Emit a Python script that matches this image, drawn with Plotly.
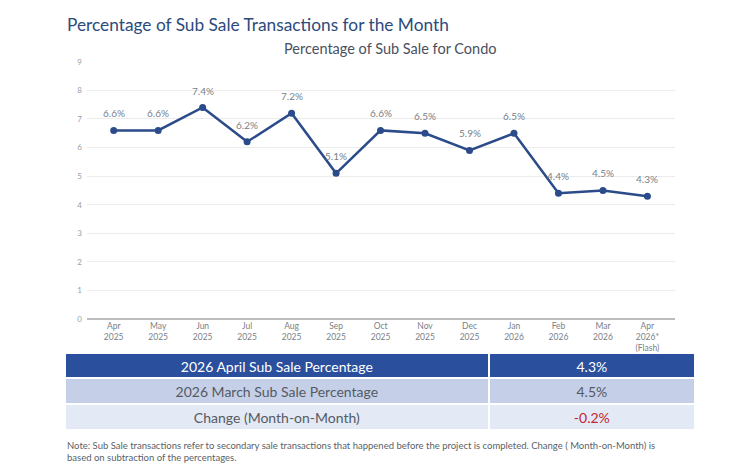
import plotly.graph_objects as go

months = ["Apr<br>2025", "May<br>2025", "Jun<br>2025", "Jul<br>2025", "Aug<br>2025", "Sep<br>2025",
          "Oct<br>2025", "Nov<br>2025", "Dec<br>2025", "Jan<br>2026", "Feb<br>2026", "Mar<br>2026",
          "Apr<br>2026*<br>(Flash)"]
values = [6.6, 6.6, 7.4, 6.2, 7.2, 5.1, 6.6, 6.5, 5.9, 6.5, 4.4, 4.5, 4.3]
labels = [f"{v:.1f}%" for v in values]

table_labels = ["2026 April Sub Sale Percentage", "2026 March Sub Sale Percentage", "Change (Month-on-Month)"]
table_values = ["4.3%", "4.5%", "-0.2%"]

W, H = 750, 467
FONT = "Lato"

fig = go.Figure()
fig.add_trace(go.Scatter(
    x=list(range(len(months))), y=values, mode="lines+markers",
    line=dict(color="#2b4b8a", width=2.5),
    marker=dict(size=7, color="#2b4b8a"),
    cliponaxis=False, showlegend=False, hoverinfo="skip",
))

fig.add_trace(go.Table(
    domain=dict(x=[65 / W, 695 / W], y=[1 - 436 / H, 1 - 356 / H]),
    columnwidth=[423, 206],
    header=dict(
        values=[table_labels[0], table_values[0]],
        fill_color="#2a4f9d", line=dict(color="white", width=2),
        font=dict(color="white", size=14, family=FONT), align="center", height=25,
    ),
    cells=dict(
        values=[table_labels[1:], table_values[1:]],
        fill_color=[["#c5d0e8", "#e3e9f5"], ["#c5d0e8", "#e3e9f5"]],
        line=dict(color="white", width=2),
        font=dict(color=[["#555a63", "#555a63"], ["#555a63", "#c0282f"]], size=14, family=FONT),
        align="center", height=26,
    ),
))

annotations = [
    dict(text="Percentage of Sub Sale Transactions for the Month", x=65 / W, y=1 - 20 / H,
         xref="paper", yref="paper", xanchor="left", yanchor="middle", showarrow=False,
         font=dict(size=17.3, color="#2c4a7c", family=FONT)),
    dict(text="Percentage of Sub Sale for Condo", x=390 / W, y=1 - 44 / H,
         xref="paper", yref="paper", xanchor="center", yanchor="middle", showarrow=False,
         font=dict(size=14.5, color="#4a5060", family=FONT)),
    dict(text="Note: Sub Sale transactions refer to secondary sale transactions that happened before the project is completed. Change ( Month-on-Month) is<br>based on subtraction of the percentages.",
         x=65 / W, y=1 - 442 / H, xref="paper", yref="paper", xanchor="left", yanchor="top",
         align="left", showarrow=False, font=dict(size=9.5, color="#5a5f68", family=FONT)),
]
for i, (v, t) in enumerate(zip(values, labels)):
    annotations.append(dict(text=t, x=i, y=v, xref="x", yref="y", showarrow=False,
                            yanchor="middle", yshift=17,
                            font=dict(size=10, color="#7a7f88", family=FONT)))

fig.update_layout(
    width=W, height=H, margin=dict(l=0, r=0, t=0, b=0),
    paper_bgcolor="white", plot_bgcolor="white",
    font=dict(family=FONT),
    xaxis=dict(domain=[87 / W, 675 / W], range=[-0.6, 12.62],
               tickmode="array", tickvals=list(range(len(months))), ticktext=months,
               tickfont=dict(size=8.5, color="#7a7f88"), showgrid=False, zeroline=False,
               showline=False, ticks=""),
    yaxis=dict(domain=[1 - 321 / H, 1 - 58 / H], range=[0, 9], dtick=1,
               tickfont=dict(size=8, color="#9a9ea6"), gridcolor="#ececec", gridwidth=1,
               zeroline=True, zerolinecolor="#bdbdbd", zerolinewidth=1.5, showline=False,
               ticklabelstandoff=4),
    annotations=annotations,
)

fig.write_html("out.html")
